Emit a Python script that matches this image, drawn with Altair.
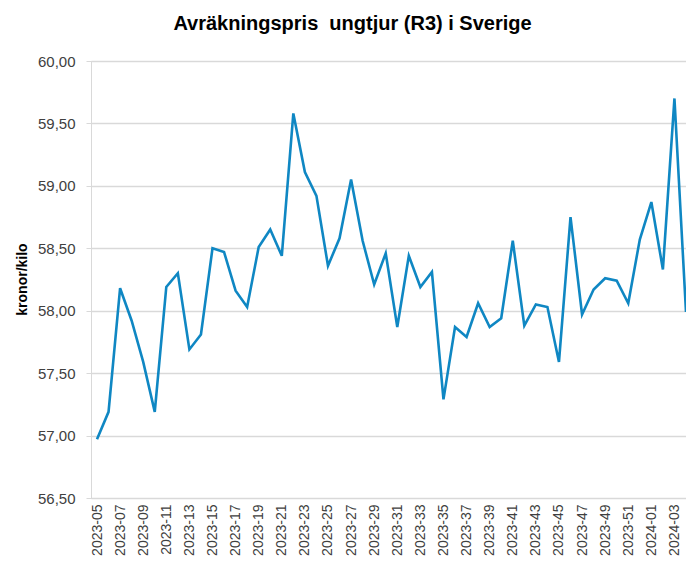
import altair as alt
import pandas as pd

weeks = [
    "2023-05", "2023-06", "2023-07", "2023-08", "2023-09", "2023-10", "2023-11", "2023-12",
    "2023-13", "2023-14", "2023-15", "2023-16", "2023-17", "2023-18", "2023-19", "2023-20",
    "2023-21", "2023-22", "2023-23", "2023-24", "2023-25", "2023-26", "2023-27", "2023-28",
    "2023-29", "2023-30", "2023-31", "2023-32", "2023-33", "2023-34", "2023-35", "2023-36",
    "2023-37", "2023-38", "2023-39", "2023-40", "2023-41", "2023-42", "2023-43", "2023-44",
    "2023-45", "2023-46", "2023-47", "2023-48", "2023-49", "2023-50", "2023-51", "2023-52",
    "2024-01", "2024-02", "2024-03", "2024-04",
]
prices = [
    56.97, 57.19, 58.18, 57.92, 57.59, 57.19, 58.19, 58.30, 57.69, 57.81,
    58.50, 58.47, 58.16, 58.03, 58.51, 58.65, 58.44, 59.58, 59.11, 58.92,
    58.36, 58.58, 59.05, 58.56, 58.21, 58.46, 57.87, 58.44, 58.19, 58.31,
    57.29, 57.87, 57.79, 58.06, 57.87, 57.94, 58.56, 57.88, 58.05, 58.03,
    57.59, 58.75, 57.97, 58.17, 58.26, 58.24, 58.06, 58.57, 58.87, 58.33,
    59.70, 57.99,
]
x_tick_labels = weeks[::2]
y_ticks = [56.5, 57.0, 57.5, 58.0, 58.5, 59.0, 59.5, 60.0]

df = pd.DataFrame({"vecka": weeks, "pris": prices})

FONT = "Liberation Sans"
GRID = "#d9d9d9"

chart = (
    alt.Chart(df)
    .mark_line(color="#0f87c3", strokeWidth=2.6)
    .encode(
        x=alt.X(
            "vecka:O",
            sort=None,
            scale=alt.Scale(type="point", padding=0.26, align=1),
            axis=alt.Axis(
                title=None,
                values=x_tick_labels,
                labelAngle=270,
                labelAlign="right",
                labelBaseline="middle",
                labelFont=FONT,
                labelFontSize=14,
                labelColor="#404040",
                labelPadding=6,
                ticks=False,
                domainColor=GRID,
                domainWidth=1,
                grid=False,
                labelOverlap=False,
            ),
        ),
        y=alt.Y(
            "pris:Q",
            scale=alt.Scale(domain=[56.5, 60.0], nice=False, zero=False),
            axis=alt.Axis(
                title="kronor/kilo",
                values=y_ticks,
                labelExpr="replace(format(datum.value, '.2f'), '.', ',')",
                labelFont=FONT,
                labelFontSize=15,
                labelColor="#404040",
                labelPadding=11,
                tickSize=5,
                tickColor=GRID,
                domainColor=GRID,
                grid=True,
                gridColor=GRID,
                gridWidth=1.3,
                titleFont=FONT,
                titleFontSize=14,
                titleFontWeight="bold",
                titleColor="#000000",
                titleAngle=270,
                titleX=-69,
                titleY=218,
                titleAlign="center",
                titleBaseline="middle",
            ),
        ),
    )
    .properties(
        width=595,
        height=437,
        title=alt.TitleParams(
            text="Avräkningspris\u00a0 ungtjur (R3) i Sverige",
            font=FONT,
            fontSize=20,
            fontWeight="bold",
            color="#000000",
            anchor="middle",
            baseline="alphabetic",
            offset=4,
            dx=-36,
        ),
        autosize=alt.AutoSizeParams(type="none"),
        padding={"left": 83, "top": 53, "right": 0, "bottom": 64},
    )
    .configure_view(stroke=None)
    .configure(background="#ffffff")
)

chart.save("out.html", embed_options={"renderer": "svg", "actions": False})
